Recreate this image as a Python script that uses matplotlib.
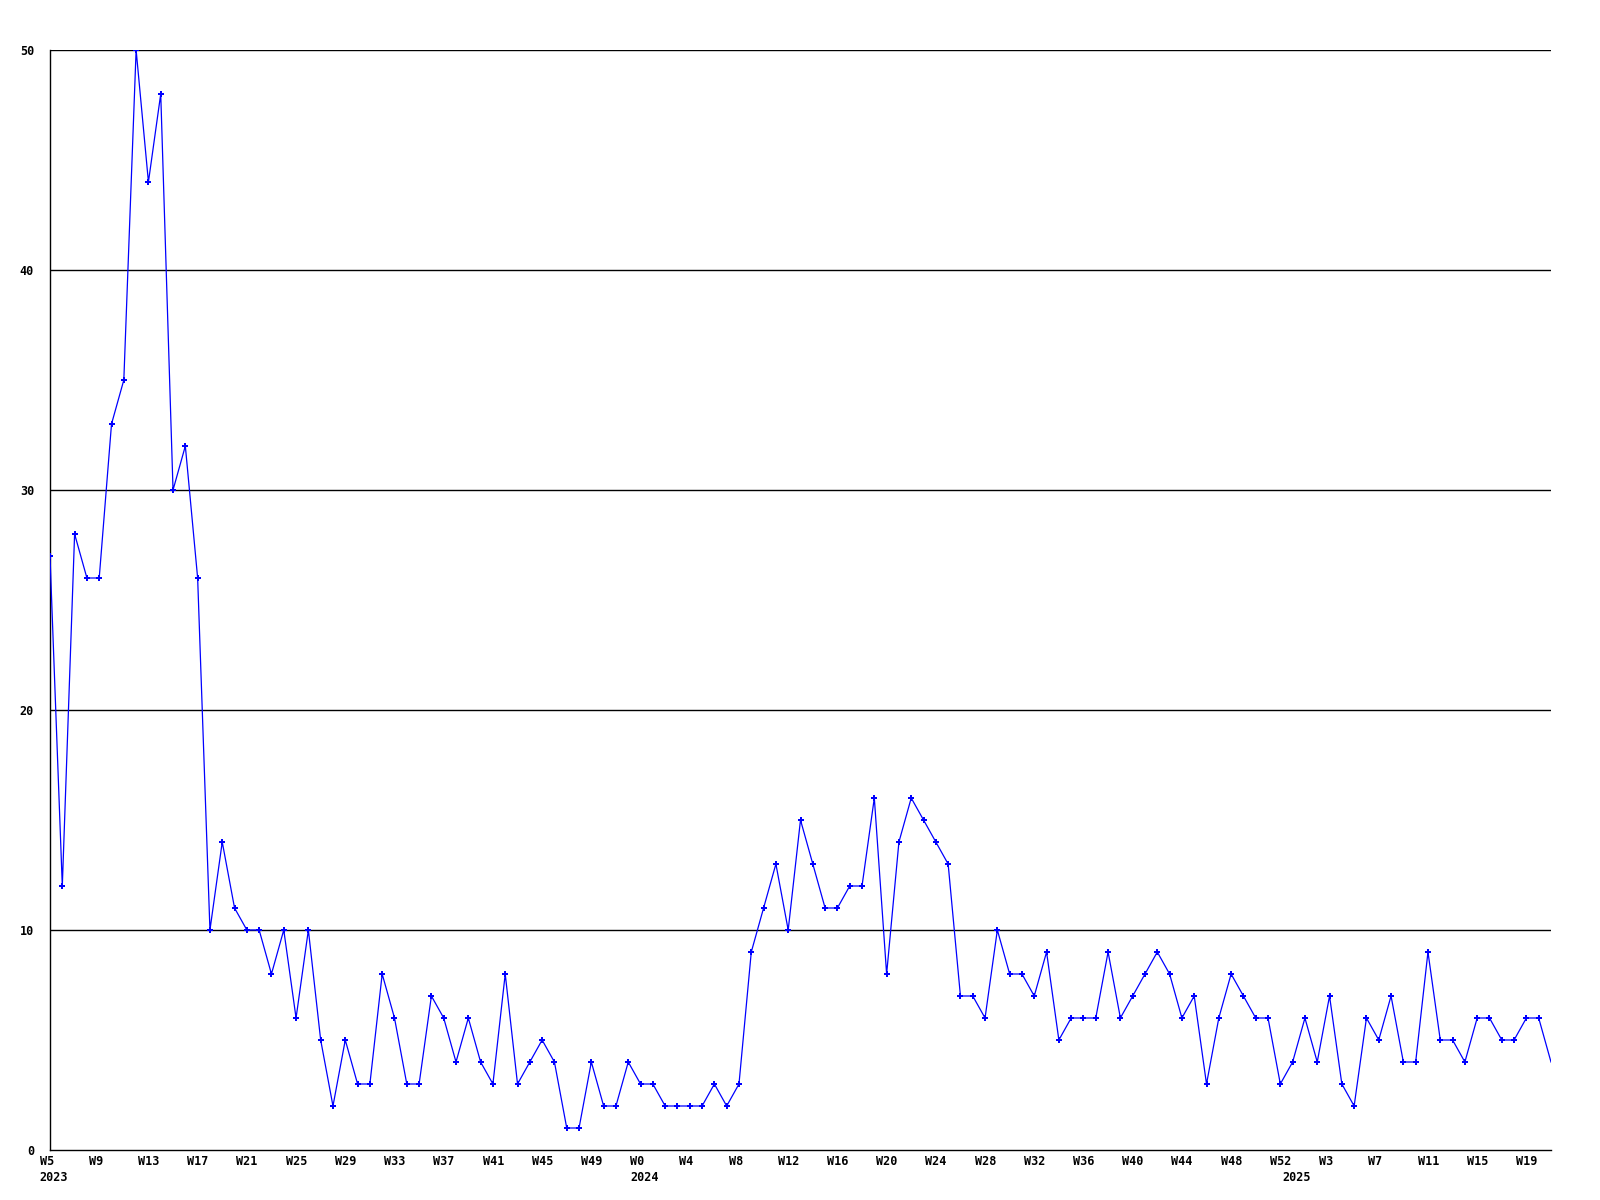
import numpy as np
import matplotlib
matplotlib.use('Agg')
import matplotlib.pyplot as plt

# weekly counts, 2023 W5 .. 2025 W21
counts = [
    27, 12, 28, 26, 26, 33, 35, 50, 44, 48,
    30, 32, 26, 10, 14, 11, 10, 10, 8, 10,
    6, 10, 5, 2, 5, 3, 3, 8, 6, 3,
    3, 7, 6, 4, 6, 4, 3, 8, 3, 4,
    5, 4, 1, 1, 4, 2, 2, 4, 3, 3,
    2, 2, 2, 2, 3, 2, 3, 9, 11, 13,
    10, 15, 13, 11, 11, 12, 12, 16, 8, 14,
    16, 15, 14, 13, 7, 7, 6, 10, 8, 8,
    7, 9, 5, 6, 6, 6, 9, 6, 7, 8,
    9, 8, 6, 7, 3, 6, 8, 7, 6, 6,
    3, 4, 6, 4, 7, 3, 2, 6, 5, 7,
    4, 4, 9, 5, 5, 4, 6, 6, 5, 5,
    6, 6, 4,
]

week_pos = [0, 4, 8, 12, 16, 20, 24, 28, 32, 36, 40, 44,
            48, 52, 56, 60, 64, 68, 72, 76, 80, 84, 88, 92, 96, 100,
            104, 108, 112, 116, 120]
week_labels = ['W5', 'W9', 'W13', 'W17', 'W21', 'W25', 'W29', 'W33', 'W37', 'W41', 'W45', 'W49',
               'W0', 'W4', 'W8', 'W12', 'W16', 'W20', 'W24', 'W28', 'W32', 'W36', 'W40', 'W44', 'W48', 'W52',
               'W3', 'W7', 'W11', 'W15', 'W19']
year_pos = [0, 48, 101]
year_labels = ['2023', '2024', '2025']

y_ticks = [0, 10, 20, 30, 40, 50]

font = dict(family='DejaVu Sans Mono', weight='bold', size=8.5)

x = np.arange(len(counts))

fig = plt.figure(figsize=(16, 12), dpi=100)
ax = fig.add_axes([50 / 1600, 50 / 1200, 1501 / 1600, 1100 / 1200])

for t in y_ticks[1:]:
    ax.axhline(t, color='black', lw=1.0, zorder=1)

ax.plot(x, counts, color='#0000ff', lw=0.9, marker='P', ms=4.5, mew=0,
        markevery=list(range(len(counts) - 1)), zorder=3)

ax.set_xlim(0, len(counts) - 1)
ax.set_ylim(0, 50)

ax.set_yticks(y_ticks)
ax.set_yticklabels([str(t) for t in y_ticks], fontdict=font)
ax.tick_params(axis='y', length=0, pad=11.5)
ax.set_xticks([])

for p, lab in zip(week_pos, week_labels):
    ax.annotate(lab, xy=(p, 0), xycoords=('data', 'axes fraction'),
                xytext=(-7.5, -8), textcoords='offset points',
                ha='left', va='center', **font)
for p, lab in zip(year_pos, year_labels):
    ax.annotate(lab, xy=(p, 0), xycoords=('data', 'axes fraction'),
                xytext=(-7.5, -19.5), textcoords='offset points',
                ha='left', va='center', **font)

for s in ['top', 'right']:
    ax.spines[s].set_visible(False)
for s in ['left', 'bottom']:
    ax.spines[s].set_color('black')
    ax.spines[s].set_linewidth(1.0)

fig.savefig('out.png', dpi=100)
